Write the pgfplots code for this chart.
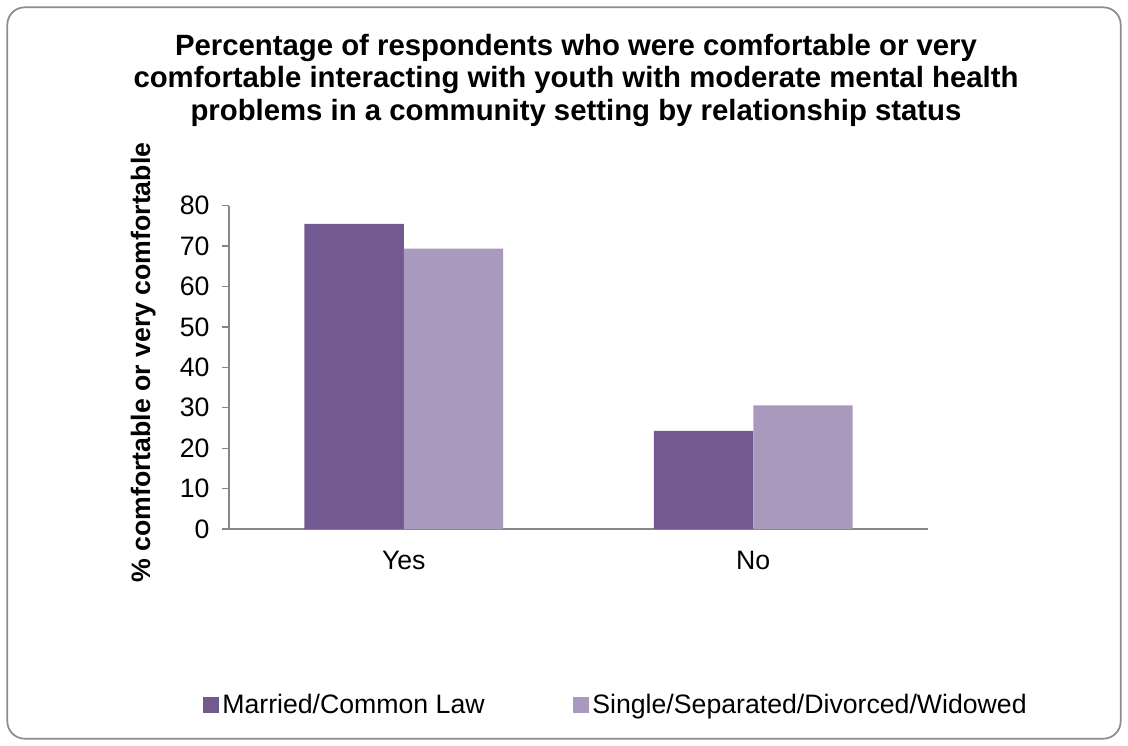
\documentclass[border=0pt]{standalone}
\usepackage{pgfplots}
\pgfplotsset{compat=1.18}
\usepackage{fontspec}
\setmainfont{Liberation Sans}
\definecolor{married}{RGB}{114,89,143}
\definecolor{single}{RGB}{169,154,189}
\definecolor{axgray}{RGB}{134,134,134}
\definecolor{bordergray}{RGB}{140,140,140}
\begin{document}
\begin{tikzpicture}
\path[use as bounding box] (0pt,0pt) rectangle (846pt,-559.5pt);
\draw[bordergray, line width=1.3pt, rounded corners=13pt] (5.5pt,-5.5pt) rectangle (840.5pt,-554pt);
\node[align=center, anchor=north, inner sep=0pt, font=\bfseries\fontsize{22}{24.5}\selectfont] at (432pt,-25.3pt)
  {Percentage of respondents who were comfortable or very\\comfortable interacting with youth with moderate mental health\\problems in a community setting by relationship status};
\node[rotate=90, font=\bfseries\fontsize{20}{24}\selectfont] at (107.5pt,-272pt) {\% comfortable or very comfortable};
\begin{axis}[
  at={(171.75pt,-396.75pt)}, anchor=south west,
  scale only axis, width=524.25pt, height=242.5pt,
  xmin=-0.5, xmax=1.5, ymin=0, ymax=80,
  ytick={0,10,...,80},
  xtick={0,1}, xticklabels={Yes,No},
  extra x ticks={-0.5,0.5,1.5}, extra x tick labels={,,},
  extra x tick style={major tick length=5.25pt, tick style={draw=axgray, line width=1pt}},
  x tick style={draw=none},
  y tick style={draw=axgray, line width=1pt},
  tick align=outside, major tick length=5.25pt,
  axis x line*=bottom, axis y line*=left,
  axis line style={draw=axgray, line width=1pt, -},
  ticklabel style={font=\fontsize{20}{24}\selectfont},
  /pgf/number format/assume math mode=true,
  yticklabel style={xshift=-5.8pt},
  xticklabel style={yshift=-7.5pt},
  ybar=0pt, bar width=74.6pt,
  legend style={draw=none, at={(0.5544,-0.544)}, anchor=center, legend columns=2,
    font=\fontsize{20}{24}\selectfont,
    /tikz/every even column/.append style={column sep=64pt},
    nodes={inner sep=2.4pt}},
]
\addplot[ybar, fill=married, draw=none, legend image code/.code={\fill[married] (0pt,-6pt) rectangle (12pt,6pt);}]
  coordinates {(0,75.5) (1,24.3)};
\addplot[ybar, fill=single, draw=none, legend image code/.code={\fill[single] (0pt,-6pt) rectangle (12pt,6pt);}]
  coordinates {(0,69.4) (1,30.6)};
\legend{Married/Common Law, Single/Separated/Divorced/Widowed}
\end{axis}
\end{tikzpicture}
\end{document}
